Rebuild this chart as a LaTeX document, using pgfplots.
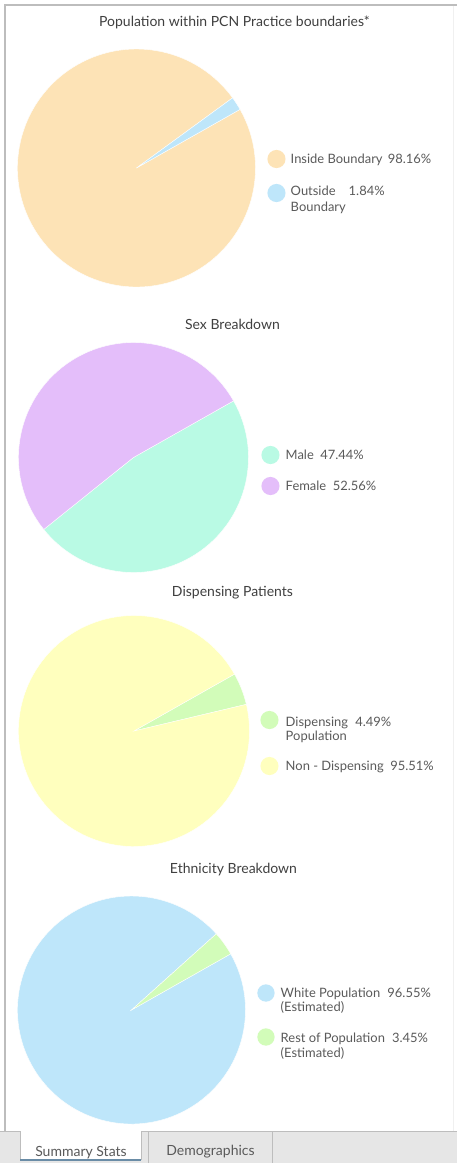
\documentclass[border=0pt]{standalone}
\usepackage{fontspec}
\setmainfont{Lato}
\usepackage{pgfplots}
\pgfplotsset{compat=1.18}
\usepackage{pgfplotstable}

\definecolor{peach}{HTML}{FDE3B6}
\definecolor{skyb}{HTML}{BEE6FA}
\definecolor{lilac}{HTML}{E4BEFA}
\definecolor{mint}{HTML}{B9FAE4}
\definecolor{lemon}{HTML}{FFFFBE}
\definecolor{lgreen}{HTML}{D2FCB9}
\definecolor{txt}{HTML}{5A5A5A}
\definecolor{ttl}{HTML}{404040}
\definecolor{framec}{HTML}{BDBDBD}
\definecolor{strip}{HTML}{E6E6E6}
\definecolor{tabline}{HTML}{6A8CA6}

% shares of each pie, in %
\pgfplotstableread{
label value
Inside 98.16
Outside 1.84
}\boundary
\pgfplotstableread{
label value
Male 47.44
Female 52.56
}\sex
\pgfplotstableread{
label value
Dispensing 4.49
NonDispensing 95.51
}\dispensing
\pgfplotstableread{
label value
White 96.55
Rest 3.45
}\ethnicity

% slices run clockwise from this angle
\def\pstart{29.5}
% #1,#2 centre (px), #3 radius (px), #4 table, #5 #6 colours
\newcommand\drawpie[6]{%
  \pgfmathsetlengthmacro\R{#3*0.75pt}%
  \pgfplotstablegetelem{0}{value}\of#4%
  \pgfmathsetmacro\aend{\pstart-3.6*\pgfplotsretval}%
  \pgfmathsetmacro\afin{\pstart-360}%
  \fill[#5,draw=white,line width=0.3pt] (axis cs:#1,#2) -- ++(\pstart:\R)
     arc[start angle=\pstart,end angle=\aend,radius=\R] -- cycle;
  \fill[#6,draw=white,line width=0.3pt] (axis cs:#1,#2) -- ++(\aend:\R)
     arc[start angle=\aend,end angle=\afin,radius=\R] -- cycle;
}

\tikzset{
  lg/.style={anchor=base west,inner sep=0pt,text=txt,font=\fontsize{9.7}{11}\selectfont},
  tt/.style={anchor=base,inner sep=0pt,text=ttl,font=\fontsize{10.5}{12}\selectfont},
}

\begin{document}
\begin{tikzpicture}
\begin{axis}[
  x=0.75pt, y=0.75pt, y dir=reverse,
  xmin=0, xmax=457, ymin=0, ymax=1163,
  hide axis, clip=false,
]
% panel and tabs
\fill[white] (axis cs:0,0) rectangle (axis cs:457,1163);
\fill[strip] (axis cs:0,1131) rectangle (axis cs:457,1163);
\draw[framec,line width=0.9pt] (axis cs:4.5,1131) -- (axis cs:4.5,5) -- (axis cs:457,5);
\draw[black!6,line width=0.6pt] (axis cs:453,6) -- (axis cs:453,1131);
\draw[framec,line width=0.7pt] (axis cs:0,1131) -- (axis cs:20,1131);
\draw[framec,line width=0.7pt] (axis cs:141,1131) -- (axis cs:457,1131);
\fill[white] (axis cs:20,1131) rectangle (axis cs:141,1160);
\draw[framec,line width=0.7pt] (axis cs:20,1131) -- (axis cs:20,1160);
\draw[framec,line width=0.7pt] (axis cs:141,1131) -- (axis cs:141,1160);
\draw[tabline,line width=0.8pt] (axis cs:20,1160) -- (axis cs:141,1160);
\draw[framec,line width=0.7pt] (axis cs:148,1162.5) -- (axis cs:148,1131) -- (axis cs:272,1131) -- (axis cs:272,1162.5);
\node[tt,text=txt] at (axis cs:80.5,1156) {Summary Stats};
\node[tt,text=txt] at (axis cs:210,1155) {Demographics};

\pgfplotsextra{%
  \drawpie{136}{168}{119}{\boundary}{peach}{skyb}%
  \drawpie{133}{457.5}{115}{\sex}{mint}{lilac}%
  \drawpie{133.5}{731}{115.5}{\dispensing}{lgreen}{lemon}%
  \drawpie{131}{1010}{114}{\ethnicity}{skyb}{lgreen}%
}

% titles
\node[tt] at (axis cs:234,27) {Population within PCN Practice boundaries*};
\node[tt] at (axis cs:232,329) {Sex Breakdown};
\node[tt] at (axis cs:232,596) {Dispensing Patients};
\node[tt] at (axis cs:233,873) {Ethnicity Breakdown};

% legends
\fill[peach] (axis cs:276,159) circle[radius=6.8pt];
\fill[skyb] (axis cs:276,193) circle[radius=6.8pt];
\node[lg] (a1) at (axis cs:290,163) {Inside Boundary};
\node[lg] at ([xshift=3.5pt]a1.base east) {98.16\%};
\node[lg] (a2) at (axis cs:290,195) {Outside};
\node[lg] at (axis cs:348,195) {1.84\%};
\node[lg] at (axis cs:290,211) {Boundary};

\fill[mint] (axis cs:270,455) circle[radius=6.8pt];
\fill[lilac] (axis cs:270,486) circle[radius=6.8pt];
\node[lg] (b1) at (axis cs:285,459) {Male};
\node[lg] at ([xshift=4.5pt]b1.base east) {47.44\%};
\node[lg] (b2) at (axis cs:285,490) {Female};
\node[lg] at ([xshift=4.5pt]b2.base east) {52.56\%};

\fill[lgreen] (axis cs:269,720) circle[radius=6.8pt];
\fill[lemon] (axis cs:269,766) circle[radius=6.8pt];
\node[lg] (c1) at (axis cs:285,726) {Dispensing};
\node[lg] at ([xshift=5pt]c1.base east) {4.49\%};
\node[lg] at (axis cs:285,740) {Population};
\node[lg] (c2) at (axis cs:285,770) {Non - Dispensing};
\node[lg] at ([xshift=4.5pt]c2.base east) {95.51\%};

\fill[skyb] (axis cs:265.5,993) circle[radius=6.5pt];
\fill[lgreen] (axis cs:265.5,1037) circle[radius=6.5pt];
\node[lg] (d1) at (axis cs:280,997) {White Population};
\node[lg] at ([xshift=5pt]d1.base east) {96.55\%};
\node[lg] at (axis cs:280,1011) {(Estimated)};
\node[lg] (d2) at (axis cs:280,1042) {Rest of Population};
\node[lg] at ([xshift=5pt]d2.base east) {3.45\%};
\node[lg] at (axis cs:280,1057) {(Estimated)};
\end{axis}
\end{tikzpicture}
\end{document}
